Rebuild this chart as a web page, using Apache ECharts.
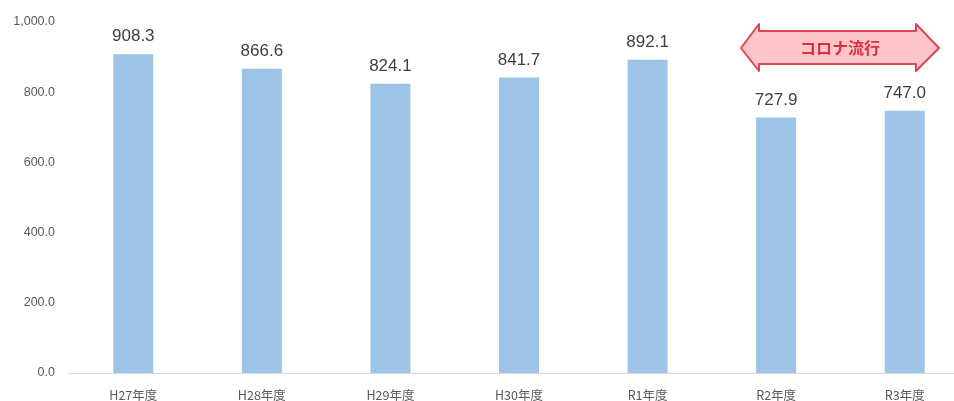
<!DOCTYPE html>
<html>
<head>
<meta charset="utf-8">
<script src="https://cdn.jsdelivr.net/npm/echarts@6/dist/echarts.min.js"></script>
<style>
  html, body { margin: 0; padding: 0; background: #fff; }
  #chart { width: 954px; height: 401px; }
</style>
</head>
<body>
<div id="chart"></div>
<script>
// Fiscal years and values
const categories = ['H27年度', 'H28年度', 'H29年度', 'H30年度', 'R1年度', 'R2年度', 'R3年度'];
const values = [908.3, 866.6, 824.1, 841.7, 892.1, 727.9, 747.0];
const yTicks = [0, 200, 400, 600, 800, 1000];
const noteText = 'コロナ流行';

const chart = echarts.init(document.getElementById('chart'), null, { renderer: 'canvas' });

const fmtTick = v => v.toLocaleString('en-US', { minimumFractionDigits: 1, maximumFractionDigits: 1 });

const option = {
  animation: false,
  backgroundColor: '#ffffff',
  grid: { left: 69, top: 22, width: 900, height: 351, containLabel: false, outerBoundsMode: 'none' },
  xAxis: {
    type: 'category',
    data: categories,
    axisLine: { lineStyle: { color: '#d9d9d9', width: 1 } },
    axisTick: { show: false },
    axisLabel: {
      color: '#595959', fontSize: 12.5, margin: 16,
      fontFamily: '"Noto Sans CJK JP", "Noto Sans", sans-serif'
    }
  },
  yAxis: {
    type: 'value',
    min: yTicks[0],
    max: yTicks[yTicks.length - 1],
    interval: yTicks[1] - yTicks[0],
    axisLine: { show: false },
    axisTick: { show: false },
    splitLine: { show: false },
    axisLabel: {
      color: '#595959', fontSize: 12.5, margin: 14,
      fontFamily: '"Liberation Sans", Arial, sans-serif',
      formatter: fmtTick
    }
  },
  series: [{
    type: 'bar',
    data: values,
    barWidth: 40,
    itemStyle: { color: '#9dc3e6' },
    label: {
      show: true,
      position: 'top',
      distance: 9,
      color: '#404040',
      fontSize: 17,
      fontFamily: '"Liberation Sans", Arial, sans-serif',
      formatter: p => p.value.toFixed(1)
    }
  }],
  graphic: [{
    type: 'group',
    left: 740,
    top: 23,
    children: [{
      type: 'polygon',
      shape: {
        points: [[0, 24], [18, 0], [18, 7], [175, 7], [175, 0], [198, 24],
                 [175, 47], [175, 40], [18, 40], [18, 47]]
      },
      style: { fill: '#fcc6ca', stroke: '#e0464f', lineWidth: 2, lineJoin: 'round' }
    }, {
      type: 'text',
      x: 99, y: 24,
      style: {
        text: noteText,
        fill: '#de2f3c',
        font: 'bold 16px "Noto Sans CJK JP", sans-serif',
        align: 'center',
        verticalAlign: 'middle'
      }
    }]
  }]
};

chart.setOption(option);
</script>
</body>
</html>
